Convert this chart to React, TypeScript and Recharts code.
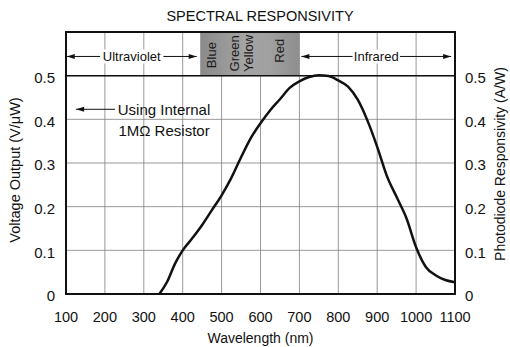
import { CartesianGrid, Line, LineChart, ReferenceArea, ReferenceDot, ReferenceLine, XAxis, YAxis } from "recharts";

const wavelengths = [340, 360, 380, 400, 425, 450, 475, 500, 525, 550, 575, 600, 625, 650, 675, 700, 725, 750, 775, 800, 825, 850, 875, 900, 925, 950, 975, 1000, 1025, 1050, 1075, 1100];
const responsivity = [0, 0.028, 0.069, 0.1, 0.128, 0.158, 0.192, 0.226, 0.266, 0.313, 0.357, 0.391, 0.421, 0.446, 0.472, 0.487, 0.497, 0.501, 0.499, 0.489, 0.475, 0.445, 0.397, 0.337, 0.27, 0.222, 0.174, 0.107, 0.062, 0.043, 0.032, 0.027];

const xTicks = [100, 200, 300, 400, 500, 600, 700, 800, 900, 1000, 1100];
const yTicks = [0, 0.1, 0.2, 0.3, 0.4, 0.5];

const visibleBand = [445, 700];
const colorNames = ["Blue", "Green", "Yellow", "Red"];
const colorNm = [475, 532, 569, 649];
const colorLevel = [0.547, 0.551, 0.551, 0.557];

const ultraviolet = [102, 436];
const infrared = [705, 1090];
const regionLevel = 0.544;

const noteArrow = [126, 226];
const noteLevel = 0.423;
const noteLines = ["Using Internal", "1MΩ Resistor"];
const noteNm = 352;
const noteLineLevels = [0.421, 0.375];

const data = wavelengths.map((nm, i) => ({ nm, v: responsivity[i] }));

const FONT = "'Liberation Sans', Arial, Helvetica, sans-serif";
const INK = "#111";

function arrowShape(headStart: boolean, headEnd: boolean) {
  return (p: any) => {
    const { x1, y1, x2, y2 } = p;
    const h = 8;
    const w = 2.5;
    return (
      <g>
        <line x1={x1} y1={y1} x2={x2} y2={y2} stroke={INK} strokeWidth={1} />
        {headStart && <polygon points={`${x1},${y1} ${x1 + h},${y1 - w} ${x1 + h},${y1 + w}`} fill={INK} />}
        {headEnd && <polygon points={`${x2},${y2} ${x2 - h},${y2 - w} ${x2 - h},${y2 + w}`} fill={INK} />}
      </g>
    );
  };
}

function regionLabel(text: string) {
  return (props: any) => {
    const vb = props.viewBox;
    const cx = vb.x + vb.width / 2;
    const cy = vb.y + vb.height / 2;
    const w = text.length * 5.3 + 5;
    return (
      <g>
        <rect x={cx - w / 2} y={cy - 7} width={w} height={14} fill="#fff" />
        <text x={cx} y={cy} dy="0.35em" textAnchor="middle" fontSize={13} fill={INK} fontFamily={FONT}>
          {text}
        </text>
      </g>
    );
  };
}

function verticalText(text: string) {
  return (props: any) => {
    const vb = props.viewBox;
    const cx = vb.x + (vb.width || 0) / 2;
    const cy = vb.y + (vb.height || 0) / 2;
    return (
      <text transform={`translate(${cx},${cy}) rotate(-90)`} dy="0.35em" textAnchor="middle" fontSize={13} fill="#1a1a1a" fontFamily={FONT}>
        {text}
      </text>
    );
  };
}

function plainText(text: string) {
  return (props: any) => {
    const vb = props.viewBox;
    const cx = vb.x + (vb.width || 0) / 2;
    const cy = vb.y + (vb.height || 0) / 2;
    return (
      <text x={cx} y={cy} dy="0.35em" textAnchor="middle" fontSize={15} fill={INK} fontFamily={FONT}>
        {text}
      </text>
    );
  };
}

export default function App() {
  return (
    <div style={{ position: "absolute", left: 0, top: 0, width: 510, height: 347, background: "#fff", fontFamily: FONT }}>
      <div style={{ position: "absolute", top: 9, left: 0, width: 520, textAlign: "center", fontSize: 14.5, lineHeight: "14px", color: INK }}>
        SPECTRAL RESPONSIVITY
      </div>
      <LineChart width={510} height={347} data={data} margin={{ top: 32, right: 0, bottom: 0, left: 0 }}>
        <defs>
          <linearGradient id="band" x1="0" y1="0" x2="1" y2="0">
            <stop offset="0%" stopColor="#8a8a8a" />
            <stop offset="45%" stopColor="#a4a4a4" />
            <stop offset="70%" stopColor="#a0a0a0" />
            <stop offset="100%" stopColor="#8e8e8e" />
          </linearGradient>
        </defs>
        <ReferenceArea yAxisId="left" x1={visibleBand[0]} x2={visibleBand[1]} y1={0.5} y2={0.6} fill="url(#band)" fillOpacity={1} stroke="none" />
        <CartesianGrid yAxisId="left" stroke="#7f7f7f" strokeWidth={0.8} />
        <XAxis
          dataKey="nm"
          type="number"
          domain={[100, 1100]}
          ticks={xTicks}
          height={53}
          tickLine={false}
          axisLine={false}
          tickSize={6}
          tickMargin={12}
          tick={{ fill: INK, fontSize: 14.5, fontFamily: FONT }}
          label={(props: any) => {
            const vb = props.viewBox;
            return (
              <text x={vb.x + vb.width / 2} y={vb.y + 49} textAnchor="middle" fontSize={14} fill={INK} fontFamily={FONT}>
                Wavelength (nm)
              </text>
            );
          }}
        />
        <YAxis
          yAxisId="left"
          type="number"
          domain={[0, 0.6]}
          ticks={yTicks}
          width={66}
          tickLine={false}
          axisLine={false}
          tickSize={6}
          tickMargin={5}
          tick={{ fill: INK, fontSize: 15, fontFamily: FONT, dy: 2 }}
          label={(props: any) => {
            const vb = props.viewBox;
            const x = vb.x + 15;
            const y = vb.y + vb.height / 2 + 7;
            return (
              <text transform={`translate(${x},${y}) rotate(-90)`} dy="0.35em" textAnchor="middle" fontSize={14.5} fill={INK} fontFamily={FONT}>
                Voltage Output (V/μW)
              </text>
            );
          }}
        />
        <YAxis
          yAxisId="right"
          orientation="right"
          type="number"
          domain={[0, 0.6]}
          ticks={yTicks}
          width={55}
          tickLine={false}
          axisLine={false}
          tickSize={6}
          tickMargin={4}
          tick={{ fill: INK, fontSize: 15, fontFamily: FONT, dy: 2 }}
          label={(props: any) => {
            const vb = props.viewBox;
            const x = vb.x + 45;
            const y = vb.y + vb.height / 2 + 1;
            return (
              <text transform={`translate(${x},${y}) rotate(-90)`} dy="0.35em" textAnchor="middle" fontSize={14} fill={INK} fontFamily={FONT}>
                Photodiode Responsivity (A/W)
              </text>
            );
          }}
        />
        <ReferenceLine yAxisId="left" y={0.5} stroke={INK} strokeWidth={1.5} />
        <ReferenceLine
          yAxisId="left"
          segment={[{ x: ultraviolet[0], y: regionLevel }, { x: ultraviolet[1], y: regionLevel }]}
          shape={arrowShape(true, true)}
          label={regionLabel("Ultraviolet")}
        />
        <ReferenceLine
          yAxisId="left"
          segment={[{ x: infrared[0], y: regionLevel }, { x: infrared[1], y: regionLevel }]}
          shape={arrowShape(true, true)}
          label={regionLabel("Infrared")}
        />
        <ReferenceLine
          yAxisId="left"
          segment={[{ x: noteArrow[0], y: noteLevel }, { x: noteArrow[1], y: noteLevel }]}
          shape={arrowShape(true, false)}
        />
        {colorNames.map((name, i) => (
          <ReferenceDot key={name} yAxisId="left" x={colorNm[i]} y={colorLevel[i]} r={0} fill="none" stroke="none" label={verticalText(name)} />
        ))}
        {noteLines.map((line, i) => (
          <ReferenceDot key={line} yAxisId="left" x={noteNm} y={noteLineLevels[i]} r={0} fill="none" stroke="none" label={plainText(line)} />
        ))}
        {/* the A/W scale shares the curve; an unstroked copy keeps the right axis alive */}
        <Line yAxisId="right" type="monotone" dataKey="v" stroke="none" strokeWidth={0} dot={false} activeDot={false} legendType="none" isAnimationActive={false} />
        <Line yAxisId="left" type="monotone" dataKey="v" stroke={INK} strokeWidth={2.5} dot={false} isAnimationActive={false} />
        <ReferenceArea yAxisId="left" x1={100} x2={1100} y1={0} y2={0.6} fill="none" stroke={INK} strokeWidth={2} />
      </LineChart>
    </div>
  );
}
